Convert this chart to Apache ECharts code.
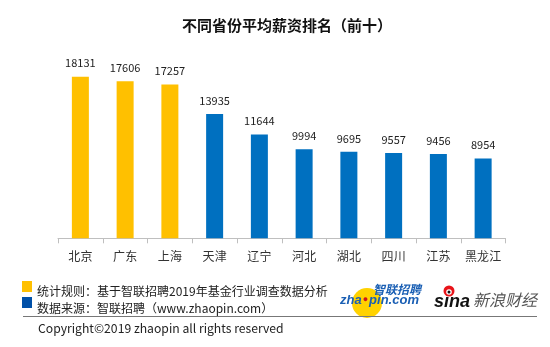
<!DOCTYPE html>
<html>
<head>
<meta charset="utf-8">
<style>
  html, body { margin: 0; padding: 0; background: #ffffff; }
  #chart { width: 550px; height: 347px; }
</style>
<script src="https://cdn.jsdelivr.net/npm/echarts@6/dist/echarts.min.js"></script>
</head>
<body>
<div id="chart"></div>
<script>
// Provinces ranked by average salary (top ten)
var provinces = ['北京', '广东', '上海', '天津', '辽宁', '河北', '湖北', '四川', '江苏', '黑龙江'];
var salaries = [18131, 17606, 17257, 13935, 11644, 9994, 9695, 9557, 9456, 8954];
// The first-tier group is drawn in yellow, the rest in blue
var firstTier = ['北京', '广东', '上海'];

var YELLOW = '#FFC000';
var BLUE = '#0070C0';
var FONT = '"Microsoft YaHei", "Noto Sans CJK SC", "Noto Sans", sans-serif';
var LOGO_FONT = '"Liberation Sans", Arial, sans-serif';

var chart = echarts.init(document.getElementById('chart'), null, { renderer: 'canvas' });

var option = {
  backgroundColor: '#ffffff',
  animation: false,
  grid: { left: 58, right: 44.5, top: 60, bottom: 108.7 },
  xAxis: {
    type: 'category',
    data: provinces,
    axisLine: { lineStyle: { color: '#bfbfbf', width: 1 } },
    axisTick: { show: true, length: 5, alignWithLabel: false, lineStyle: { color: '#bfbfbf' } },
    axisLabel: { interval: 0, color: '#333', fontFamily: FONT, fontSize: 12, margin: 12 }
  },
  yAxis: {
    type: 'value',
    min: 0,
    max: 20000,
    show: false,
    splitLine: { show: false }
  },
  series: [{
    type: 'bar',
    barWidth: 17,
    data: salaries.map(function (v, i) {
      return {
        value: v,
        itemStyle: { color: firstTier.indexOf(provinces[i]) >= 0 ? YELLOW : BLUE }
      };
    }),
    label: {
      show: true,
      position: 'top',
      distance: 8,
      color: '#222',
      fontFamily: FONT,
      fontSize: 11
    }
  }],
  graphic: [
    // chart title
    { type: 'text', x: 287, y: 25, style: { text: '不同省份平均薪资排名（前十）', font: 'bold 15px ' + FONT, fill: '#111', textAlign: 'center', textVerticalAlign: 'middle' } },
    // legend squares and notes
    { type: 'rect', left: 22, top: 281, shape: { width: 10, height: 11 }, style: { fill: YELLOW } },
    { type: 'rect', left: 22, top: 297, shape: { width: 10, height: 11 }, style: { fill: '#0050A8' } },
    { type: 'text', x: 37, y: 291, style: { text: '统计规则：基于智联招聘2019年基金行业调查数据分析', font: '12px ' + FONT, fill: '#222', textVerticalAlign: 'middle' } },
    { type: 'text', x: 37, y: 308, style: { text: '数据来源：智联招聘（www.zhaopin.com）', font: '12px ' + FONT, fill: '#222', textVerticalAlign: 'middle' } },
    // zhaopin mark
    { type: 'circle', shape: { cx: 367, cy: 303, r: 15 }, style: { fill: '#FFD200' } },
    {
      type: 'text', x: 340, y: 300,
      style: {
        text: '{a|zha}{o|●}{a|pin.com}',
        textVerticalAlign: 'middle',
        rich: {
          a: { font: 'italic bold 13px ' + LOGO_FONT, fill: '#1a5fb4' },
          o: { font: 'bold 9px ' + LOGO_FONT, fill: '#d0121b', padding: [0, 1, 0, 1] }
        }
      }
    },
    { type: 'text', x: 373, y: 289, style: { text: '智联招聘', font: 'italic bold 12px ' + FONT, fill: '#1a5fb4', textVerticalAlign: 'middle' } },
    // sina finance mark
    { type: 'text', x: 434, y: 302, style: { text: 'sina', font: 'italic bold 18px ' + LOGO_FONT, fill: '#111', textVerticalAlign: 'middle' } },
    { type: 'circle', shape: { cx: 449, cy: 291, r: 5.5 }, style: { fill: '#e8141a' } },
    { type: 'circle', shape: { cx: 449, cy: 292, r: 2.8 }, style: { fill: '#ffffff' } },
    { type: 'circle', shape: { cx: 449, cy: 292, r: 1.5 }, style: { fill: '#111' } },
    { type: 'text', x: 473, y: 300, style: { text: '新浪财经', font: 'italic 16px ' + FONT, fill: '#555', textVerticalAlign: 'middle' } },
    // separator and copyright
    { type: 'line', shape: { x1: 23, y1: 316.5, x2: 537, y2: 316.5 }, style: { stroke: '#777', lineWidth: 1 } },
    { type: 'text', x: 38, y: 328, style: { text: 'Copyright©2019 zhaopin all rights reserved', font: '12.2px ' + FONT, fill: '#222', textVerticalAlign: 'middle' } }
  ]
};

chart.setOption(option);
</script>
</body>
</html>
